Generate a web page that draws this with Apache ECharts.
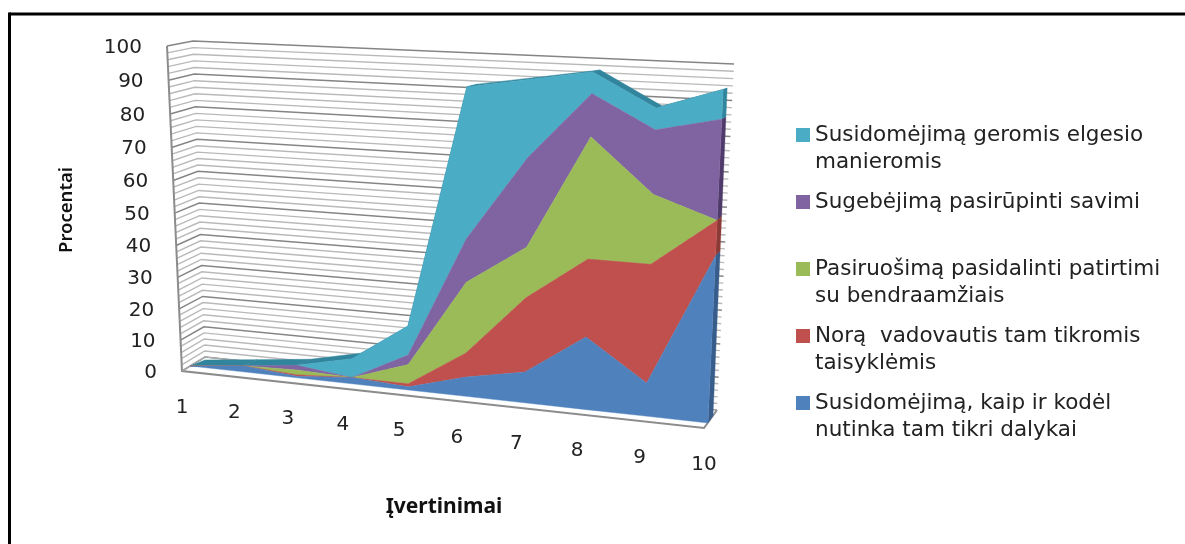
<!DOCTYPE html>
<html>
<head>
<meta charset="utf-8">
<style>html,body{margin:0;padding:0;background:#fff}#c{width:1185px;height:544px}</style>
<script src="https://cdn.jsdelivr.net/npm/echarts@6/dist/echarts.min.js"></script>
</head>
<body>
<div id="c"></div>
<script>
// ---- chart data ----
var categories = ['1','2','3','4','5','6','7','8','9','10'];
var yTicks = [0,10,20,30,40,50,60,70,80,90,100];
var gridSteps = [0,2,4,6,8,10,12,14,16,18,20,22,24,26,28,30,32,34,36,38,40,42,44,46,48,50,52,54,56,58,60,62,64,66,68,70,72,74,76,78,80,82,84,86,88,90,92,94,96,98,100];
var susidomejimasKaip = [0,2,0.5,2,1,6,9.5,22,10,49];
var noras = [0,0,0.5,0,1,7.5,22.5,23,35,10];
var pasiruosimas = [0,0,1.5,0,6,21.5,15,35,20,0];
var sugebejimas = [0,0,1.5,0,3,13,26,12,18,28];
var susidomejimasManieromis = [0,0,0,6,9,44,22,6,6,8];
var seriesNames = [
  'Susidomėjimą, kaip ir kodėl nutinka tam tikri dalykai',
  'Norą  vadovautis tam tikromis taisyklėmis',
  'Pasiruošimą pasidalinti patirtimi su bendraamžiais',
  'Sugebėjimą pasirūpinti savimi',
  'Susidomėjimą geromis elgesio manieromis'
];
var legendLines = {};
legendLines[seriesNames[0]] = 'Susidomėjimą, kaip ir kodėl\nnutinka tam tikri dalykai';
legendLines[seriesNames[1]] = 'Norą  vadovautis tam tikromis\ntaisyklėmis';
legendLines[seriesNames[2]] = 'Pasiruošimą pasidalinti patirtimi\nsu bendraamžiais';
legendLines[seriesNames[3]] = 'Sugebėjimą pasirūpinti savimi';
legendLines[seriesNames[4]] = 'Susidomėjimą geromis elgesio\nmanieromis';
var layers = [susidomejimasKaip, noras, pasiruosimas, sugebejimas, susidomejimasManieromis];

// ---- styling ----
var frontColors = ['#4f81bd','#c0504d','#9bbb59','#8064a2','#4bacc6'];
var sideColors  = ['#385d8a','#8c3a38','#71893f','#4f3b6b','#31859c'];
var W = 1185, H = 544;

// perspective planes (view only): bottom-left, bottom-right, top-right, top-left
function plane(p00,p10,p11,p01){
  var dx1=p10[0]-p11[0],dx2=p01[0]-p11[0],sx=p00[0]-p10[0]+p11[0]-p01[0];
  var dy1=p10[1]-p11[1],dy2=p01[1]-p11[1],sy=p00[1]-p10[1]+p11[1]-p01[1];
  var det=dx1*dy2-dx2*dy1;
  var g=(sx*dy2-dx2*sy)/det,h=(dx1*sy-sx*dy1)/det;
  var a=p10[0]-p00[0]+g*p10[0],b=p01[0]-p00[0]+h*p01[0],c=p00[0];
  var d=p10[1]-p00[1]+g*p10[1],e=p01[1]-p00[1]+h*p01[1],f=p00[1];
  return function(s,t){var w=g*s+h*t+1;return [(a*s+b*t+c)/w,(d*s+e*t+f)/w];};
}
var areaFront = plane([190,366],[708,423],[724,71],[176,44]);
var areaBack  = plane([205,360],[713,416],[728,70],[191,40]);
var wallFront = plane([182,371],[704,428],[722,64],[167,46]);
var wallBack  = plane([205,357],[717,410],[734,64],[193,41]);

// cumulative stack built from the series arrays
var stacked = [];
layers.forEach(function(vals,i){
  stacked.push(vals.map(function(v,k){return v+(i?stacked[i-1][k]:0);}));
});
var lastK = categories.length-1;

// library scale -> unit square -> perspective plane
function project(api,pl,k,v){
  var p = api.coord([k,v]);
  return pl(p[0]/W,1-p[1]/H);
}

function renderLayer(idx){
  return function(params,api){
    if(params.dataIndex!==0) return null;
    var top=stacked[idx], base=idx?stacked[idx-1]:top.map(function(){return 0;});
    var children=[], pts=[], k;
    if(idx===layers.length-1){
      for(k=0;k<lastK;k++){
        children.push({type:'polygon',shape:{points:[
          project(api,areaFront,k,top[k]),project(api,areaFront,k+1,top[k+1]),
          project(api,areaBack,k+1,top[k+1]),project(api,areaBack,k,top[k])]},
          style:{fill:sideColors[idx],stroke:sideColors[idx],lineWidth:0.5}});
      }
    }
    children.push({type:'polygon',shape:{points:[
      project(api,areaFront,lastK,base[lastK]),project(api,areaFront,lastK,top[lastK]),
      project(api,areaBack,lastK,top[lastK]),project(api,areaBack,lastK,base[lastK])]},
      style:{fill:sideColors[idx],stroke:sideColors[idx],lineWidth:0.3}});
    for(k=0;k<=lastK;k++) pts.push(project(api,areaFront,k,top[k]));
    for(k=lastK;k>=0;k--) pts.push(project(api,areaFront,k,base[k]));
    children.push({type:'polygon',shape:{points:pts},
      style:{fill:frontColors[idx],stroke:frontColors[idx],lineWidth:0.4}});
    return {type:'group',children:children};
  };
}

function renderWalls(params,api){
  if(params.dataIndex!==0) return null;
  var kids=[];
  gridSteps.forEach(function(v){
    var major = v%10===0;
    var c = major?'#858585':'#b9b9b9', lw = major?1.5:1.4;
    var a=project(api,wallFront,0,v), b=project(api,wallBack,0,v), d=project(api,wallBack,lastK,v);
    kids.push({type:'polyline',shape:{points:[a,b,d]},style:{fill:null,stroke:c,lineWidth:lw}});
  });
  // axis edges
  var edge='#8c8c8c';
  kids.push({type:'polyline',shape:{points:[project(api,wallFront,0,100),project(api,wallFront,0,0),project(api,wallFront,lastK,0),project(api,wallBack,lastK,0)]},
    style:{fill:null,stroke:edge,lineWidth:2}});
  kids.push({type:'polyline',shape:{points:[project(api,wallFront,0,0),project(api,wallBack,0,0),project(api,wallBack,lastK,0)]},
    style:{fill:null,stroke:'#b0b0b0',lineWidth:1}});
  // tick labels
  yTicks.forEach(function(v){
    var p=project(api,wallFront,0,v);
    kids.push({type:'text',style:{text:String(v),x:p[0]-25,y:p[1]+1.5,align:'right',verticalAlign:'middle',
      font:'20px "DejaVu Sans"',fill:'#222'}});
  });
  categories.forEach(function(c,k){
    var p=project(api,wallFront,k,0);
    kids.push({type:'text',style:{text:c,x:p[0],y:p[1]+36.5,align:'center',verticalAlign:'middle',
      font:'20px "DejaVu Sans"',fill:'#222'}});
  });
  return {type:'group',children:kids};
}

// first-line centre of each legend entry
var legendCentres = [135,202,269,336,403];
var legendOrder = [4,3,2,1,0];
var LH = 27;
var legends = legendOrder.map(function(si,i){
  var twoLines = legendLines[seriesNames[si]].indexOf('\n')>=0;
  return {
    data:[{name:seriesNames[si],icon:'rect'}],
    orient:'vertical', left:796,
    // a blank lead line keeps the swatch level with the first text line
    top:legendCentres[i]-(twoLines?1.5*LH:0.5*LH),
    padding:0,
    itemWidth:14,itemHeight:14,itemGap:0,selectedMode:false,
    formatter:function(n){var t=legendLines[n];return t.indexOf('\n')>=0?' \n'+t:t;},
    textStyle:{fontFamily:'"DejaVu Sans"',fontSize:21.5,color:'#222',lineHeight:LH}
  };
});

var series = [{
  type:'custom',name:'walls',coordinateSystem:'cartesian2d',silent:true,z:1,
  data:categories.map(function(c,k){return [k,0];}),
  renderItem:renderWalls
}];
// draw from the top layer down so lower layers sit in front
for(var i=layers.length-1;i>=0;i--){
  series.push({
    type:'custom',name:seriesNames[i],coordinateSystem:'cartesian2d',silent:true,
    z:2+(layers.length-1-i),
    itemStyle:{color:frontColors[i]},
    data:layers[i].map(function(v,k){return [k,v];}),
    renderItem:renderLayer(i)
  });
}

var chart = echarts.init(document.getElementById('c'),null,{renderer:'canvas',width:W,height:H});
chart.setOption({
  animation:false,
  backgroundColor:'#fff',
  grid:{left:0,right:0,top:0,bottom:0,containLabel:false},
  xAxis:{type:'value',min:0,max:9,interval:1,show:false},
  yAxis:{type:'value',min:0,max:100,interval:10,show:false},
  legend:legends,
  series:series,
  graphic:[
    {type:'line',shape:{x1:9.5,y1:14,x2:W,y2:14},style:{stroke:'#000',lineWidth:3}},
    {type:'line',shape:{x1:9.5,y1:12.5,x2:9.5,y2:H},style:{stroke:'#000',lineWidth:3}},
    {type:'text',x:67,y:210,rotation:Math.PI/2,style:{text:'Procentai',align:'center',verticalAlign:'middle',
      font:'600 18.5px "Noto Sans"',fill:'#111'}},
    {type:'text',x:444,y:507,style:{text:'Įvertinimai',align:'center',verticalAlign:'middle',
      font:'700 21px "Noto Sans"',fill:'#111'}}
  ]
});
</script>
</body>
</html>
